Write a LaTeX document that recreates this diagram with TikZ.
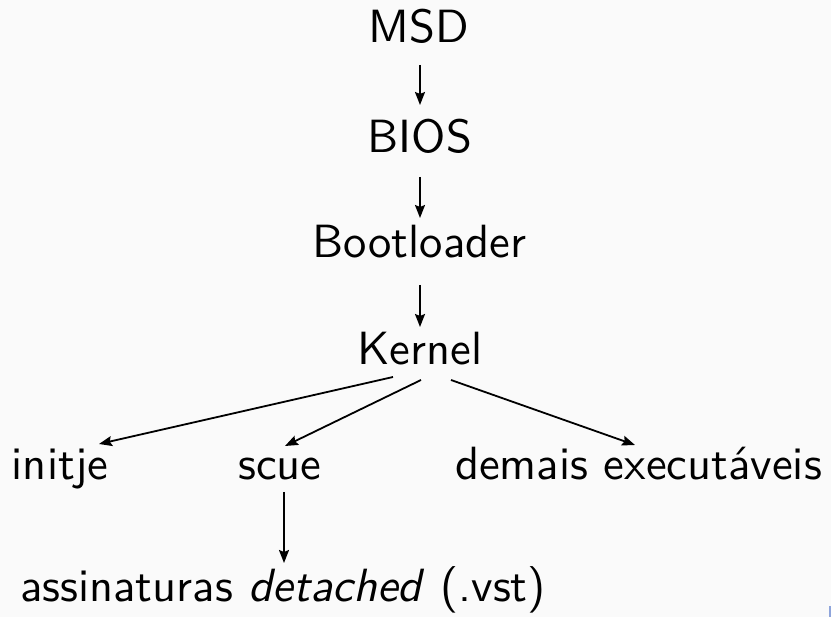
\documentclass[tikz,border=0pt]{standalone}
\usepackage{fontspec}
\usepackage{graphicx}
\usetikzlibrary{calc,arrows.meta}
\newcommand{\bigtxt}[1]{\scalebox{4.66}{\fontsize{10}{12}\selectfont #1}}
\begin{document}
\begin{tikzpicture}[x=1pt,y=-1pt,
  lbl/.style={anchor=base,inner sep=0pt,font=\sffamily},
  arr/.style={line width=1.8pt,-{Stealth[length=13pt,width=10pt,inset=2pt]}}]
\fill[black!2] (0,0) rectangle (831,617);
\useasboundingbox (0,0) rectangle (831,617);
\node[lbl] (msd) at (419,43) {\bigtxt{MSD}};
\node[lbl] (bios) at (420,153) {\bigtxt{BIOS}};
\node[lbl] (boot) at (419.5,258) {\bigtxt{Bootloader}};
\node[lbl] (kernel) at (420,365) {\bigtxt{Kernel}};
\node[lbl] (initje) at (60,480) {\bigtxt{initje}};
\node[lbl] (scue) at (280,480) {\bigtxt{scue}};
\node[lbl] (demais) at (638.5,480) {\bigtxt{demais executáveis}};
\node[lbl] (assin) at (283,602) {\bigtxt{assinaturas \textit{detached} (.vst)}};
\draw[arr] ($(msd.base)+(1,22)$) -- ($(bios.base)+(0,-48)$);
\draw[arr] ($(bios.base)+(0,24)$) -- ($(boot.base)+(0.5,-40)$);
\draw[arr] ($(boot.base)+(0.5,27)$) -- ($(kernel.base)+(0,-38)$);
\draw[arr] ($(kernel.base)+(-27,12)$) -- ($(initje.base)+(39,-36)$);
\draw[arr] ($(kernel.base)+(1,15)$) -- ($(scue.base)+(5,-34)$);
\draw[arr] ($(kernel.base)+(31,15)$) -- ($(demais.base)+(-3.5,-35)$);
\draw[arr] ($(scue.base)+(4,12)$) -- ($(assin.base)+(1,-39)$);
\fill[cyan!40!blue!45] (829,606) rectangle (831,617);
\end{tikzpicture}
\end{document}
